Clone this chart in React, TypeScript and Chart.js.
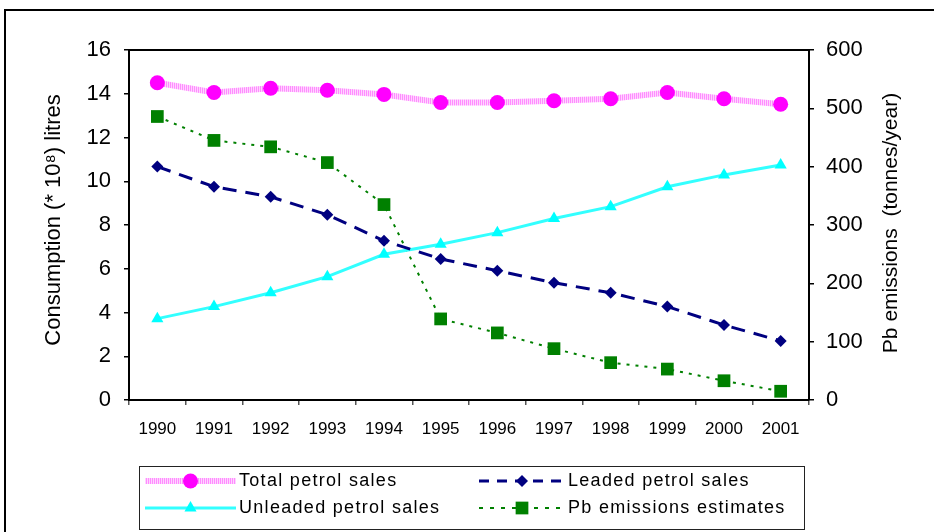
import React, { useEffect, useRef } from 'react';
import { Chart, registerables } from 'chart.js';

Chart.register(...registerables);

const years = ['1990', '1991', '1992', '1993', '1994', '1995', '1996', '1997', '1998', '1999', '2000', '2001'];
const totalSales = [14.5, 14.06, 14.25, 14.16, 13.97, 13.6, 13.6, 13.68, 13.77, 14.06, 13.77, 13.52];
const leadedSales = [10.67, 9.75, 9.29, 8.47, 7.28, 6.45, 5.91, 5.36, 4.9, 4.27, 3.43, 2.7];
const unleadedSales = [3.72, 4.27, 4.9, 5.64, 6.66, 7.12, 7.65, 8.3, 8.84, 9.75, 10.29, 10.74];
const pbEmissions = [486, 445, 434, 407, 335, 139, 115, 88, 64, 53, 33, 15];

const seriesLabels = ['Total petrol sales', 'Leaded petrol sales', 'Unleaded petrol sales', 'Pb emissions estimates'];
const leftTitle = 'Consumption (* 10\u2078) litres';
const rightTitle = 'Pb emissions  (tonnes/year)';

const FONT = "'Liberation Sans', Arial, sans-serif";

function drawMarker(ctx: CanvasRenderingContext2D, style: string, x: number, y: number, r: number, color: string) {
  ctx.save();
  ctx.fillStyle = color;
  ctx.beginPath();
  if (style === 'circle') {
    ctx.arc(x, y, r, 0, Math.PI * 2);
  } else if (style === 'rectRot') {
    ctx.moveTo(x - r, y);
    ctx.lineTo(x, y - r);
    ctx.lineTo(x + r, y);
    ctx.lineTo(x, y + r);
    ctx.closePath();
  } else if (style === 'triangle') {
    const a = (2 * Math.PI) / 3;
    ctx.moveTo(x, y - r);
    ctx.lineTo(x + Math.sin(a) * r, y - Math.cos(a) * r);
    ctx.lineTo(x - Math.sin(a) * r, y - Math.cos(a) * r);
    ctx.closePath();
  } else {
    const s = Math.SQRT1_2 * r;
    ctx.rect(x - s, y - s, 2 * s, 2 * s);
  }
  ctx.fill();
  ctx.restore();
}

function drawVerticalText(ctx: CanvasRenderingContext2D, text: string, x: number, y: number, size: number) {
  ctx.save();
  ctx.translate(x, y);
  ctx.rotate(-Math.PI / 2);
  ctx.fillStyle = '#000';
  ctx.font = `${size}px ${FONT}`;
  ctx.textAlign = 'center';
  ctx.textBaseline = 'middle';
  ctx.fillText(text, 0, 0);
  ctx.restore();
}

const decorPlugin = {
  id: 'decor',
  afterDraw(chart: any) {
    const ctx: CanvasRenderingContext2D = chart.ctx;
    const ca = chart.chartArea;
    ctx.save();
    // outer frame
    ctx.strokeStyle = '#000';
    ctx.lineWidth = 2;
    ctx.strokeRect(5, 10, 1000, 1000);
    // plot area top border
    ctx.beginPath();
    ctx.moveTo(ca.left, ca.top);
    ctx.lineTo(ca.right, ca.top);
    ctx.stroke();
    // axis titles (both read bottom-to-top)
    drawVerticalText(ctx, chart.options.scales.y.title.text, 54, 220, 22);
    drawVerticalText(ctx, chart.options.scales.y1.title.text, 891, 223, 21);
    // legend box
    ctx.lineWidth = 1;
    ctx.strokeStyle = '#222';
    ctx.strokeRect(139.5, 466.5, 665, 63);
    const slots = [
      { x0: 145, x1: 236, tx: 239, y: 481 },
      { x0: 479, x1: 565, tx: 568, y: 481 },
      { x0: 145, x1: 236, tx: 239, y: 508 },
      { x0: 479, x1: 565, tx: 568, y: 508 },
    ];
    chart.data.datasets.forEach((ds: any, i: number) => {
      const s = slots[i];
      ctx.save();
      ctx.strokeStyle = ds.borderColor;
      ctx.lineWidth = ds.borderWidth;
      ctx.setLineDash(ds.legendDash || ds.borderDash || []);
      ctx.beginPath();
      ctx.moveTo(s.x0, s.y);
      ctx.lineTo(s.x1, s.y);
      ctx.stroke();
      ctx.setLineDash([]);
      drawMarker(ctx, ds.pointStyle, (s.x0 + s.x1) / 2, s.y, ds.pointRadius, ds.pointBackgroundColor);
      ctx.fillStyle = '#000';
      ctx.font = `18px ${FONT}`;
      (ctx as any).letterSpacing = '1.3px';
      ctx.textBaseline = 'middle';
      ctx.textAlign = 'left';
      ctx.fillText(ds.label, s.tx, s.y);
      ctx.restore();
    });
    ctx.restore();
  },
};

export default function App() {
  const ref = useRef<HTMLCanvasElement>(null);

  useEffect(() => {
    document.body.style.margin = '0';
    document.body.style.overflow = 'hidden';
    const canvas = ref.current!;
    const pc = document.createElement('canvas');
    pc.width = 2;
    pc.height = 1;
    const pctx = pc.getContext('2d')!;
    pctx.fillStyle = '#FF8CFF';
    pctx.fillRect(0, 0, 1, 1);
    pctx.fillStyle = '#FFD4FF';
    pctx.fillRect(1, 0, 1, 1);
    const pink = canvas.getContext('2d')!.createPattern(pc, 'repeat');

    Chart.defaults.font.family = FONT;
    Chart.defaults.color = '#000';

    const chart = new Chart(canvas, {
      type: 'line',
      data: {
        labels: years,
        datasets: [
          {
            label: seriesLabels[0],
            data: totalSales,
            yAxisID: 'y',
            borderColor: pink as any,
            borderWidth: 6,
            pointStyle: 'circle',
            pointRadius: 7.5,
            pointBackgroundColor: '#FF00FF',
            pointBorderColor: '#FF00FF',
            pointBorderWidth: 0,
          } as any,
          {
            label: seriesLabels[1],
            data: leadedSales,
            yAxisID: 'y',
            borderColor: '#000080',
            borderWidth: 3,
            borderDash: [14, 9],
            legendDash: [10, 8],
            pointStyle: 'rectRot',
            pointRadius: 6,
            pointBackgroundColor: '#000080',
            pointBorderColor: '#000080',
            pointBorderWidth: 0,
          } as any,
          {
            label: seriesLabels[2],
            data: unleadedSales,
            yAxisID: 'y',
            borderColor: '#33FFFF',
            borderWidth: 3,
            pointStyle: 'triangle',
            pointRadius: 7,
            pointBackgroundColor: '#00FFFF',
            pointBorderColor: '#00FFFF',
            pointBorderWidth: 0,
          } as any,
          {
            label: seriesLabels[3],
            data: pbEmissions,
            yAxisID: 'y1',
            borderColor: '#008000',
            borderWidth: 2,
            borderDash: [3, 6],
            legendDash: [4, 7],
            pointStyle: 'rect',
            pointRadius: 9,
            pointBackgroundColor: '#008000',
            pointBorderColor: '#008000',
            pointBorderWidth: 0,
          } as any,
        ],
      },
      options: {
        responsive: false,
        animation: false,
        layout: { padding: { top: 50, left: 0, right: 0, bottom: 0 } },
        plugins: {
          legend: { display: false },
          tooltip: { enabled: false },
        },
        scales: {
          x: {
            type: 'category',
            offset: true,
            grid: {
              offset: true,
              drawOnChartArea: false,
              drawTicks: true,
              tickLength: 5,
              color: '#555',
              lineWidth: 1.5,
            },
            border: { display: true, color: '#000', width: 2 },
            ticks: { font: { size: 17 }, padding: 14, maxRotation: 0, autoSkip: false, color: '#000' },
            afterFit: (s: any) => {
              s.height = 132;
            },
          },
          y: {
            position: 'left',
            min: 0,
            max: 16,
            grid: { drawOnChartArea: false, drawTicks: true, tickLength: 5, color: '#000', lineWidth: 1.5 },
            border: { display: true, color: '#000', width: 2 },
            ticks: { stepSize: 2, font: { size: 22 }, padding: 13, color: '#000' },
            title: { display: false, text: leftTitle },
            afterFit: (s: any) => {
              s.width = 129;
            },
          },
          y1: {
            position: 'right',
            min: 0,
            max: 600,
            grid: { drawOnChartArea: false, drawTicks: true, tickLength: 5, color: '#000', lineWidth: 1.5 },
            border: { display: true, color: '#000', width: 2 },
            ticks: { stepSize: 100, font: { size: 22 }, padding: 12, color: '#000' },
            title: { display: false, text: rightTitle },
            afterFit: (s: any) => {
              s.width = 125;
            },
          },
        },
      },
      plugins: [decorPlugin],
    });

    return () => {
      chart.destroy();
    };
  }, []);

  return (
    <div style={{ width: 934, height: 532, position: 'relative' }}>
      <canvas ref={ref} width={934} height={532} style={{ display: 'block' }} />
    </div>
  );
}
